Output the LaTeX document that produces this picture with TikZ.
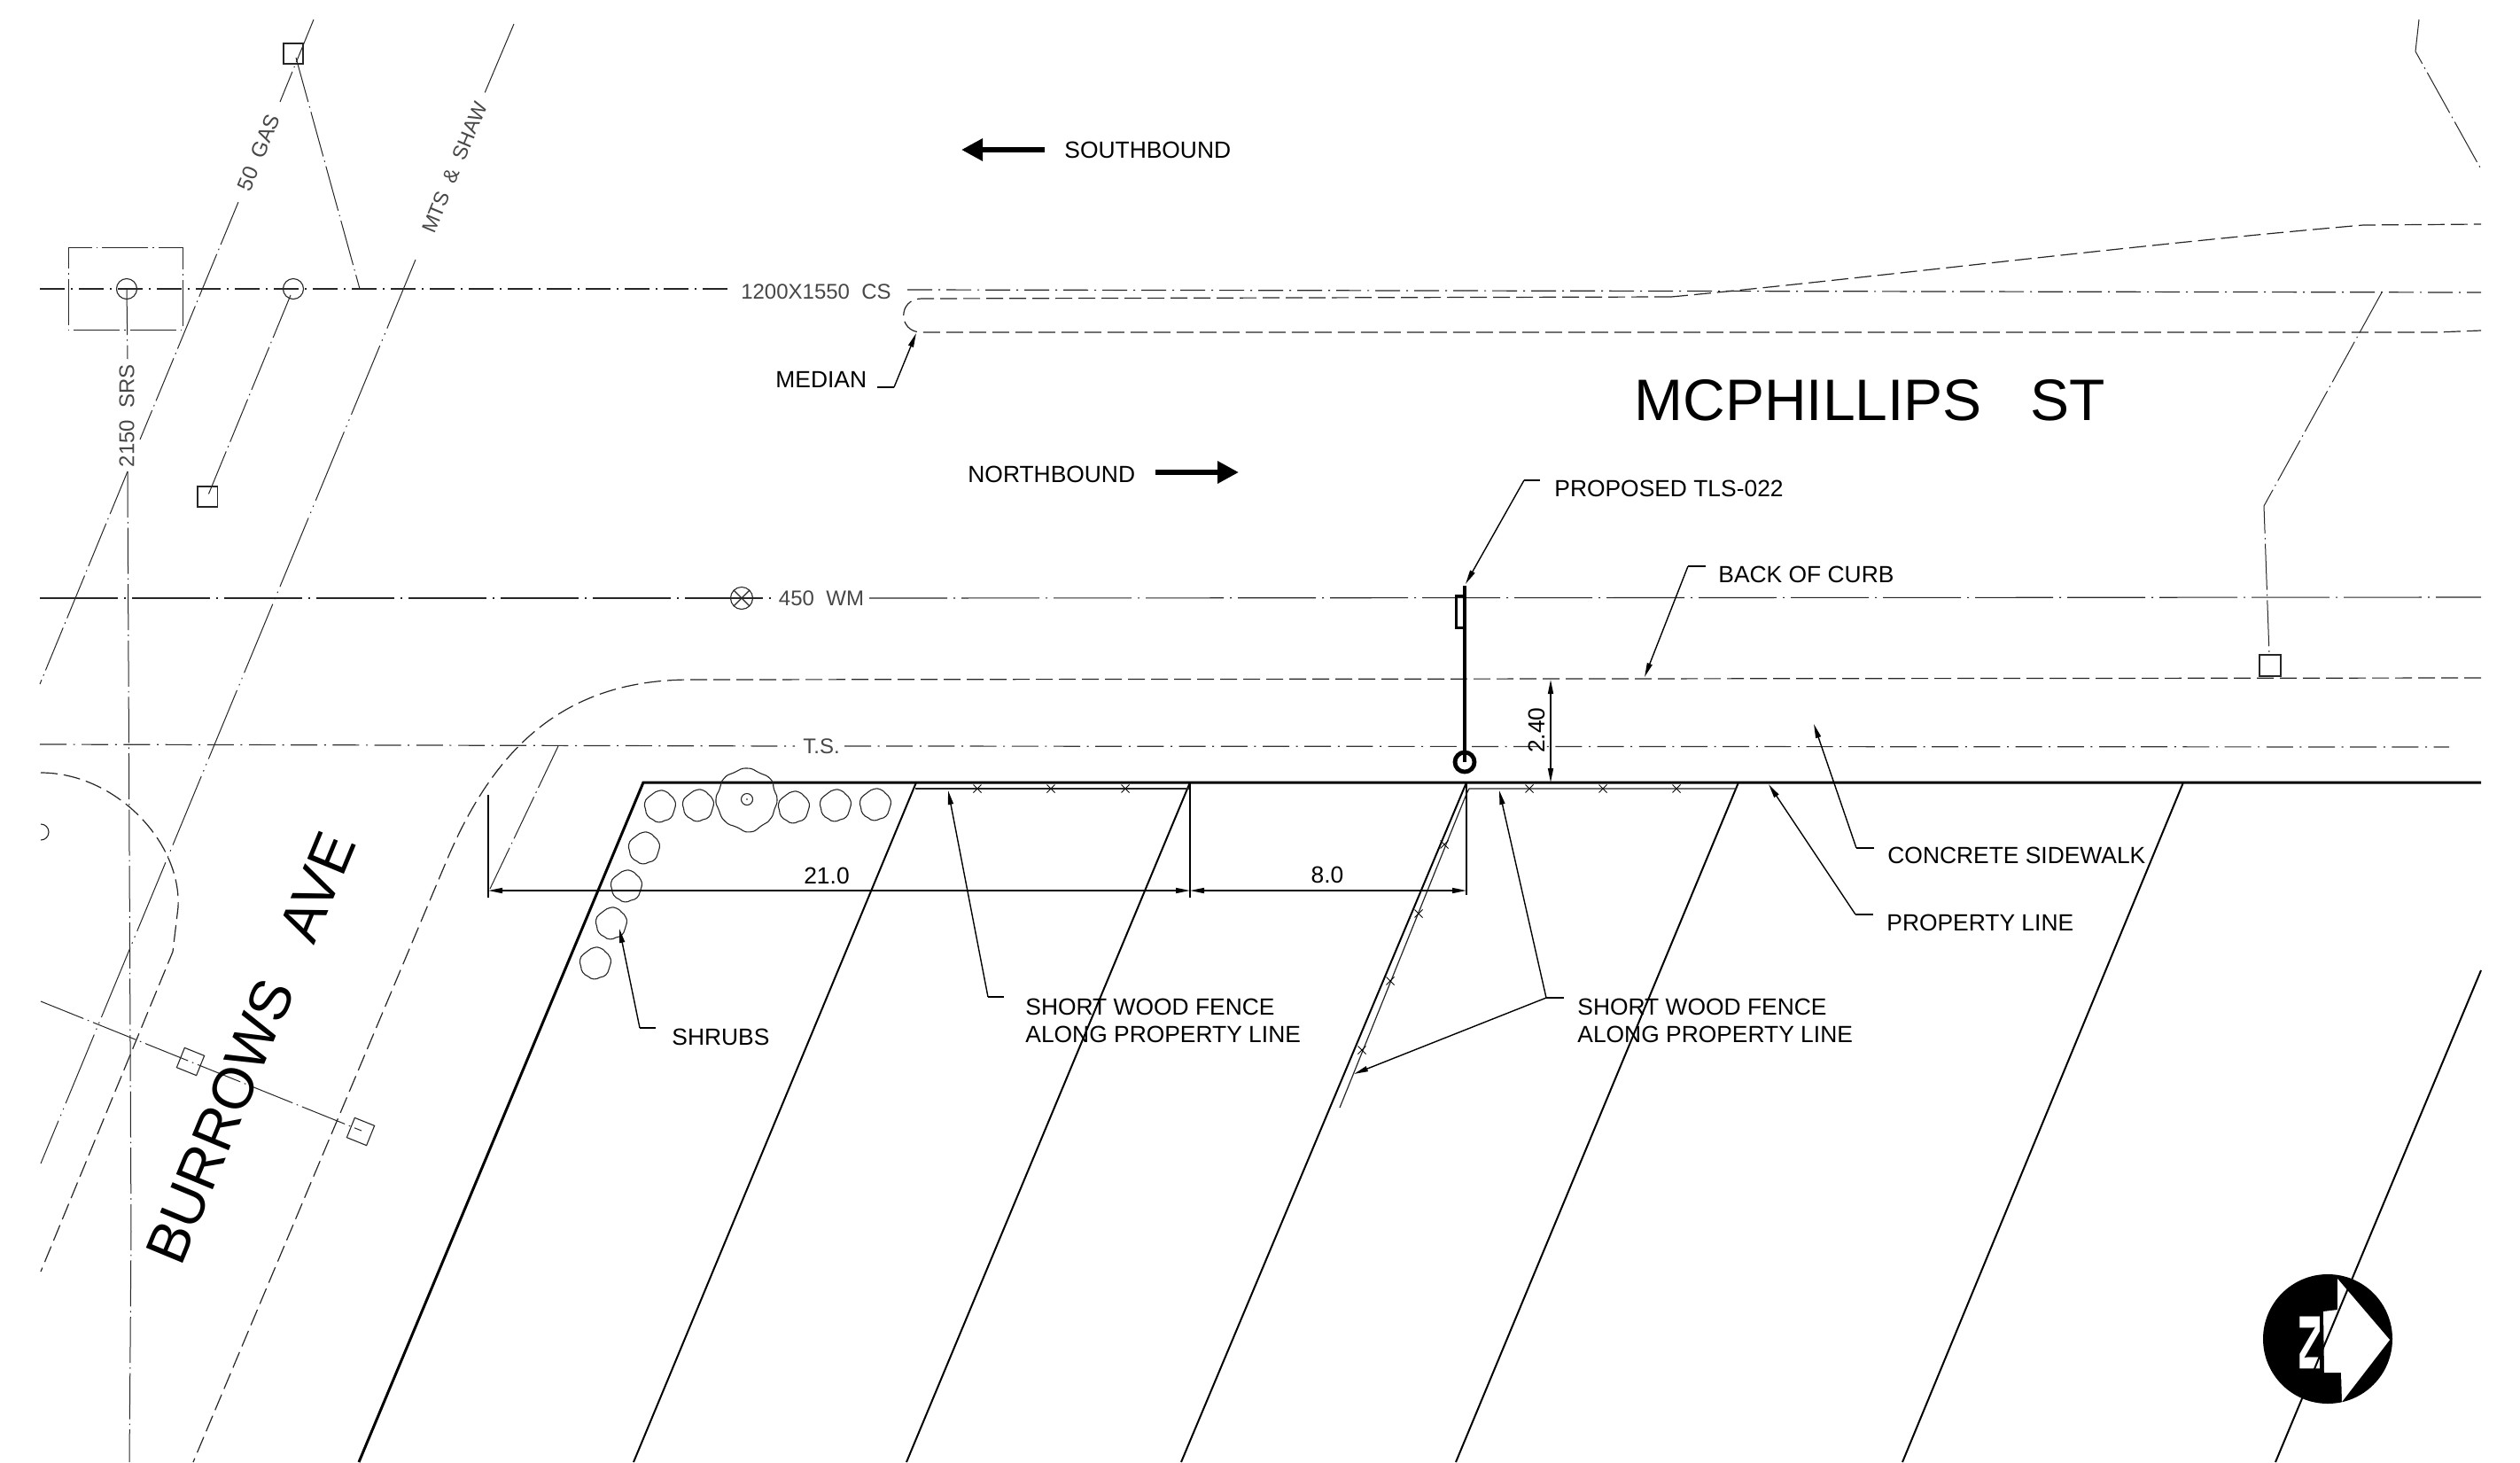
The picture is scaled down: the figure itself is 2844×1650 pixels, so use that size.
\documentclass[tikz,border=0pt]{standalone}
\usepackage{fontspec}
\setmainfont{Liberation Sans}
\usetikzlibrary{arrows.meta}
\tikzset{
  annot/.style={font=\fontsize{13.2}{15.6}\selectfont,inner sep=0pt,anchor=west,align=left},
  streetname/.style={font=\fontsize{33}{36}\selectfont,inner sep=0pt},
  util/.style={font=\fontsize{12}{14}\selectfont,inner sep=0pt,text=black!72},
  dimtext/.style={font=\fontsize{13.2}{15.6}\selectfont,inner sep=0pt},
  propline/.style={line width=1.5pt},
  lotline/.style={line width=1pt},
  fence/.style={line width=.6pt,black!85},
  curb/.style={line width=.6pt,black!85,dash pattern=on 9.5pt off 3.5pt},
  csline/.style={line width=.6pt,black!85,dash pattern=on 14pt off 3.5pt on 1pt off 3.5pt},
  wmline/.style={line width=.55pt,black!85,dash pattern=on 44pt off 3.5pt on 1pt off 3.5pt},
  tsline/.style={line width=.6pt,black!80,dash pattern=on 15pt off 3.8pt on 1pt off 3.8pt},
  svc/.style={line width=.5pt,black!85,dash pattern=on 26pt off 2.5pt on .8pt off 2.5pt},
  longsvc/.style={line width=.5pt,black!85,dash pattern=on 42pt off 3pt on .8pt off 3pt on .8pt off 3pt},
  thinbox/.style={line width=.55pt,black!85},
  leader/.style={line width=.7pt,-{Stealth[length=8pt,width=3pt,inset=0pt]}},
  elbow/.style={line width=.7pt},
  dimarrow/.style={line width=.7pt,{Stealth[length=8pt,width=3pt,inset=0pt]}-{Stealth[length=8pt,width=3pt,inset=0pt]}},
  ticklinE/.style={line width=.8pt},
  bigarrow/.style={line width=3pt,-{Stealth[length=12pt,width=12pt,inset=0pt]}},
  shrubline/.style={line width=.55pt,black!85,fill=none},
  smallshrub/.pic={\draw[shrubline] plot[smooth cycle,tension=1] coordinates {(0:17.2)(24:16.6)(48:17.6)(72:16.8)(96:18)(120:17)(144:17.6)(168:16.8)(192:17.8)(216:17)(240:16.4)(264:17.6)(288:18)(312:17)(336:17.6)};},
  bigshrub/.pic={\draw[shrubline] plot[smooth cycle,tension=1] coordinates {(0:34)(20:33)(40:34.5)(60:34)(85:37)(110:33.5)(135:35)(160:34)(180:35)(200:33)(222:35)(245:33.5)(270:35)(295:33)(320:35)(340:32.5)};},
  fencex/.pic={\draw[line width=.5pt] (-4.5,-4.5)--(4.5,4.5) (-4.5,4.5)--(4.5,-4.5);}
}
\begin{document}
\begin{tikzpicture}[x=.5pt,y=-.5pt]
\useasboundingbox (0,0) rectangle (2844,1650);
\fill[white] (0,0) rectangle (2844,1650);

% --- street lines
\draw[csline] (45,326) -- (825,326);
\draw[csline] (1024,327) -- (2800,330);
\draw[curb] (1886,335) -- (1040,337) .. controls (1013,337) and (1013,375) .. (1040,375) -- (2750,375) -- (2800,373);
\draw[curb] (1886,335) .. controls (2100,315) and (2400,277) .. (2667,254) -- (2800,253);
\draw[wmline] (45,675) -- (872,675);
\draw[wmline] (981,675) -- (2800,674);
\draw[curb] (2800,765) -- (780,767) .. controls (640,767) and (560,840) .. (505,969) -- (218,1650);
\draw[tsline] (45,840) -- (897,842);
\draw[tsline] (953,842) -- (2764,843);

% --- property lines
\draw[propline] (405,1650) -- (726,883) -- (2800,883);
\draw[lotline] (1034,883) -- (715,1650);
\draw[lotline] (1343,883) -- (1023,1650);
\draw[lotline] (1655,883) -- (1333,1650);
\draw[lotline] (1962,883) -- (1643,1650);
\draw[lotline] (2464,883) -- (2147,1650);

% --- fences
\draw[fence] (1033,890) -- (1343,890);
\draw[fence] (1512,1250) -- (1655,896) -- (1658,890) -- (1960,890);
\foreach \px in {1103,1186,1270,1726,1809,1892} \pic at (\px,890) {fencex};
\foreach \px/\py in {1630/953,1601/1031,1569/1107,1537/1185} \pic at (\px,\py) {fencex};

% --- utilities, upper left
\draw[svc] (354,22) -- (316,115);
\draw[svc] (269,228) -- (158,496);
\draw[svc] (144,532) -- (45,772);
\draw[longsvc] (580,27) -- (547,105);
\draw[longsvc] (469,293) -- (46,1313);
\draw[svc] (334,65) -- (406,326);
\draw[svc] (328,333) -- (234,561);
\draw[svc] (143,326) -- (144,405);
\draw[svc] (144,532) -- (148,1390) -- (146,1650);
\draw[svc,dash phase=14pt] (77,279) rectangle (206,372);
\draw[thinbox] (143,326) circle[radius=11.5];
\draw[thinbox] (331,326) circle[radius=11.5];
\draw[thinbox] (320,49) rectangle (342,72);
\draw[thinbox] (223,549) rectangle (245.5,572);

% --- utilities, lower left
\draw[curb] (46,872) .. controls (130,872) and (205,950) .. (201,1024) -- (195,1074) -- (46,1435);
\draw[thinbox] (46,930) arc[start angle=-90,end angle=90,radius=9];
\draw[svc] (46,1130) -- (408,1276);
\draw[thinbox,rotate around={-22:(215,1198)}] (203,1186) rectangle (227,1210);
\draw[thinbox,rotate around={-22:(407,1277)}] (395,1265) rectangle (419,1289);
\draw[svc] (630,842) -- (553,1003);

% --- utilities, right
\draw[svc] (2730,22) -- (2726,58) -- (2800,191);
\draw[svc] (2688,330) -- (2555,571) -- (2561,739);
\draw[thinbox] (2550,739) rectangle (2574,763);

% --- valve
\draw[thinbox] (837,675) circle[radius=12.5];
\draw[thinbox] (828,666) -- (846,684) (828,684) -- (846,666);

% --- shrubs
\foreach \px/\py in {745/910,788/909,896/911,943/909,988/908,727/957,707/1000,690/1042,672/1087}
  \pic at (\px,\py) {smallshrub};
\pic at (843,902) {bigshrub};
\draw[thinbox] (843,902) circle[radius=6.5];
\fill (843,902) circle[radius=.9];

% --- proposed pole
\draw[line width=2.2pt] (1653,661) -- (1653,860);
\draw[line width=1.5pt] (1653,672) -- (1643,672) -- (1643,708) -- (1653,708);
\draw[line width=2.4pt] (1653,860) circle[radius=11];

% --- dimensions
\coordinate (dimA) at (551,1005);
\coordinate (dimB) at (1343,1005);
\coordinate (dimC) at (1655,1005);
\coordinate (dimTop) at (1750,767);
\coordinate (dimBot) at (1750,883);
\draw[ticklinE] (551,897) -- (551,1013);
\draw[ticklinE] (1343,883) -- (1343,1013);
\draw[ticklinE] (1655,883) -- (1655,1010);
\draw[dimarrow] (dimA) -- (dimB);
\draw[dimarrow] (dimB) -- (dimC);
\draw[dimarrow] (dimTop) -- (dimBot);
\node[dimtext] (d21) at (933,988) {21.0};
\node[dimtext] (d8) at (1498,987) {8.0};
\node[dimtext,rotate=90] (d240) at (1734,824) {2.40};

% --- labels
\node[annot] (south) at (1201,169) {SOUTHBOUND};
\node[annot] (north) at (1092,535) {NORTHBOUND};
\node[annot] (median) at (875,428) {MEDIAN};
\node[annot] (tls) at (1754,551) {PROPOSED TLS-022};
\node[annot] (boc) at (1939,648) {BACK OF CURB};
\node[annot] (walk) at (2130,965) {CONCRETE SIDEWALK};
\node[annot] (pl) at (2129,1041) {PROPERTY LINE};
\node[annot] (fenceL) at (1157,1152) {SHORT WOOD FENCE\\ALONG PROPERTY LINE};
\node[annot] (fenceR) at (1780,1152) {SHORT WOOD FENCE\\ALONG PROPERTY LINE};
\node[annot] (shrubs) at (758,1170) {SHRUBS};

\node[streetname,anchor=base west] (mcp) at (1844,474) {MCPHILLIPS\ \ \ ST};
\node[streetname,anchor=base west,rotate=67.5,font=\fontsize{32.5}{36}\selectfont] (bur) at (204,1431) {BURROWS\ \ \ AVE};

\node[util] (cs) at (921,329) {1200X1550\ \ CS};
\node[util] (wm) at (927,675) {450\ \ WM};
\node[util] (ts) at (927,842) {T.S.};
\node[util,rotate=67.5] (gas) at (292,172) {50\ \ GAS};
\node[util,rotate=67.5,font=\fontsize{11.5}{14}\selectfont] (shaw) at (513,189) {MTS\ \ \&\ \ SHAW};
\node[util,rotate=90] (srs) at (143,469) {2150\ \ SRS};

% --- travel arrows
\coordinate (sbA) at (1179,169);
\coordinate (sbB) at (1085,169);
\coordinate (nbA) at (1304,533);
\coordinate (nbB) at (1398,533);
\draw[bigarrow] (sbA) -- (sbB);
\draw[bigarrow] (nbA) -- (nbB);

% --- leaders
\coordinate (m1) at (990,437); \coordinate (m2) at (1009,437); \coordinate (m3) at (1034,376);
\draw[elbow] (m1) -- (m2); \draw[leader] (m2) -- (m3);
\coordinate (t1) at (1738,542); \coordinate (t2) at (1720,542); \coordinate (t3) at (1654,659);
\draw[elbow] (t1) -- (t2); \draw[leader] (t2) -- (t3);
\coordinate (b1) at (1925,639); \coordinate (b2) at (1905,639); \coordinate (b3) at (1856,764);
\draw[elbow] (b1) -- (b2); \draw[leader] (b2) -- (b3);
\coordinate (c1) at (2115,957); \coordinate (c2) at (2095,957); \coordinate (c3) at (2047,817);
\draw[elbow] (c1) -- (c2); \draw[leader] (c2) -- (c3);
\coordinate (p1) at (2114,1032); \coordinate (p2) at (2094,1032); \coordinate (p3) at (1996,885);
\draw[elbow] (p1) -- (p2); \draw[leader] (p2) -- (p3);
\coordinate (fl1) at (1133,1125); \coordinate (fl2) at (1115,1125); \coordinate (fl3) at (1070,892);
\draw[elbow] (fl1) -- (fl2); \draw[leader] (fl2) -- (fl3);
\coordinate (fr1) at (1765,1126); \coordinate (fr2) at (1745,1126); \coordinate (fr3) at (1692,892); \coordinate (fr4) at (1528,1212);
\draw[elbow] (fr1) -- (fr2); \draw[leader] (fr2) -- (fr3); \draw[leader] (fr2) -- (fr4);
\coordinate (s1) at (740,1160); \coordinate (s2) at (722,1160); \coordinate (s3) at (699,1048);
\draw[elbow] (s1) -- (s2); \draw[leader] (s2) -- (s3);

% --- north arrow
\fill (2627,1511) circle[radius=73];
\fill[white] (2638,1443) -- (2697,1512) -- (2643,1582) -- (2642,1549) -- (2623,1549) -- (2622,1480) -- (2638,1478) -- cycle;
\node[white,inner sep=0pt,rotate=90,yscale=.33,font=\bfseries\fontsize{50}{50}\selectfont] (compassN) at (2607,1515.5) {N};
\draw[lotline] (2800,1095) -- (2568,1650);
\end{tikzpicture}
\end{document}
